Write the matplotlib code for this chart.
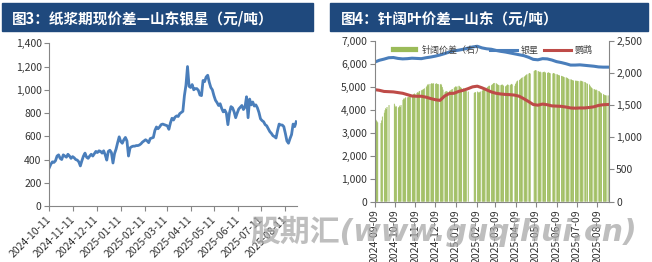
import pandas as pd
import matplotlib
matplotlib.use("Agg")
import matplotlib.pyplot as plt
from matplotlib.patches import Rectangle

plt.rcParams['font.family'] = ['Noto Sans CJK SC', 'DejaVu Sans']
plt.rcParams['axes.unicode_minus'] = False

navy = "#1f497d"
blue = "#4a7ebb"
red = "#be4b48"
green = "#9bbb59"
grey = "#868686"
txt = "#333333"

# 图3：纸浆期现价差（山东银星），每两天一个读数
basis_start, basis_end = "2024-10-11", "2025-08-25"
basis = [
    330, 360, 380, 375, 390, 430, 440, 410, 400, 440,
    430, 420, 445, 430, 410, 425, 415, 400, 395, 380,
    345, 390, 430, 455, 420, 410, 430, 445, 430, 450,
    470, 460, 475, 470, 455, 475, 440, 395, 470, 480,
    460, 370, 450, 490, 545, 595, 555, 540, 570, 590,
    560, 430, 500, 510, 515, 515, 520, 520, 525, 535,
    550, 560, 570, 560, 545, 580, 585, 590, 650, 680,
    665, 680, 700, 705, 700, 695, 690, 660, 715, 755,
    740, 765, 775, 770, 795, 805, 815, 950, 1040, 1200,
    1030, 1020, 1045, 1000, 1010, 1010, 995, 955, 950, 1080,
    1070, 1110, 1125, 1065, 1020, 1000, 950, 910, 890, 865,
    880, 840, 810, 825, 800, 700, 800, 855, 845, 810,
    760, 800, 835, 850, 865, 830, 850, 940, 760, 920,
    870, 895, 860, 870, 845, 805, 750, 735, 725, 700,
    690, 665, 640, 625, 605, 597, 585, 650, 705, 697,
    697, 683, 625, 560, 540, 580, 615, 705, 683, 725,
]
basis_xticks = ["2024-10-11", "2024-11-11", "2024-12-11", "2025-01-11", "2025-02-11",
                "2025-03-11", "2025-04-11", "2025-05-11", "2025-06-11", "2025-07-11",
                "2025-08-11"]
basis_yticks = [0, 200, 400, 600, 800, 1000, 1200, 1400]

# 图4：针阔叶价差，山东（元/吨）
spread_start, spread_end = "2024-09-09", "2025-08-25"
closed_days = ["2024-09-16", "2024-09-17", "2024-10-01", "2024-10-02", "2024-10-03",
               "2024-10-04", "2024-10-07", "2025-01-01", "2025-01-28", "2025-01-29",
               "2025-01-30", "2025-01-31", "2025-02-03", "2025-02-04", "2025-04-04",
               "2025-05-01", "2025-05-02", "2025-05-05", "2025-06-02", "2025-07-23"]
# 针阔价差（右轴），按交易日，每行一周
spread = [
    1290, 1275, 1260, 1245, 1230,
    1220, 1260, 1320,
    1380, 1420, 1450, 1440, 1470,
    1500,
    1520, 1490, 1470, 1480,
    1460, 1470, 1490, 1470, 1500,
    1580, 1600, 1590, 1610, 1620,
    1620, 1630, 1620, 1640, 1640,
    1650, 1660, 1670, 1680, 1670,
    1690, 1700, 1690, 1710, 1720,
    1730, 1740, 1730, 1750, 1760,
    1780, 1800, 1820, 1810, 1830,
    1830, 1840, 1830, 1840, 1835,
    1830, 1840, 1820, 1830, 1825,
    1820, 1830, 1810, 1780, 1740,
    1700, 1710, 1720, 1700, 1710,
    1720, 1730, 1740, 1750,
    1770, 1780, 1790, 1780, 1790,
    1800, 1790, 1780, 1770, 1760,
    1760, 1750, 1740, 1730, 1720,
    1710,
    1690, 1700, 1700,
    1710, 1700, 1690, 1700, 1710,
    1720, 1740, 1750, 1760, 1770,
    1770, 1780, 1790, 1800, 1800,
    1810, 1820, 1830, 1840, 1845,
    1840, 1830, 1820, 1815, 1810,
    1810, 1815, 1820, 1810, 1800,
    1790, 1800, 1810, 1820, 1815,
    1810, 1820, 1830, 1820,
    1800, 1830, 1850, 1870, 1880,
    1890, 1900, 1910, 1920, 1930,
    1940, 1950, 1960, 1970, 1980,
    1990, 2000, 1990,
    2030, 2040, 2045, 2040,
    2030, 2020, 2015, 2020, 2010,
    2010, 2015, 2020, 2010, 2005,
    2000, 2010, 2005, 2000, 1995,
    1990, 2000, 1995, 1985,
    1980, 1975, 1970, 1965, 1960,
    1955, 1950, 1945, 1940, 1935,
    1930, 1925, 1920, 1910, 1905,
    1900, 1895, 1890, 1885, 1880,
    1880, 1875, 1880, 1870, 1875,
    1870, 1880, 1875, 1870, 1865,
    1860, 1850, 1840, 1830,
    1820, 1800, 1780, 1770, 1760,
    1750, 1740, 1730, 1740, 1730,
    1720, 1710, 1700, 1690, 1680,
    1670, 1660, 1655, 1650, 1650,
    1650,
]
# 银星 / 鹦鹉 价格（左轴），每周一个读数
silver_star = [6080, 6160, 6210, 6270, 6280, 6240, 6220, 6230, 6250, 6240,
               6230, 6270, 6300, 6340, 6390, 6450, 6520, 6570, 6600, 6640,
               6690, 6740, 6770, 6700, 6660, 6640, 6590, 6550, 6520, 6480,
               6440, 6400, 6360, 6290, 6200, 6180, 6230, 6220, 6170, 6100,
               6060, 6010, 5950, 5950, 5960, 5940, 5920, 5900, 5870, 5860,
               5860]
parrot = [4880, 4850, 4800, 4790, 4780, 4750, 4720, 4660, 4600, 4590,
          4590, 4550, 4490, 4440, 4410, 4600, 4710, 4720, 4800, 4850,
          4920, 5000, 5030, 4960, 4870, 4780, 4720, 4690, 4670, 4660,
          4640, 4590, 4480, 4360, 4230, 4200, 4250, 4220, 4170, 4160,
          4150, 4120, 4080, 4070, 4080, 4080, 4100, 4130, 4190, 4220,
          4230]
spread_xticks = ["2024-09-09", "2024-10-09", "2024-11-09", "2024-12-09", "2025-01-09",
                 "2025-02-09", "2025-03-09", "2025-04-09", "2025-05-09", "2025-06-09",
                 "2025-07-09", "2025-08-09"]
price_yticks = [0, 1000, 2000, 3000, 4000, 5000, 6000, 7000]
spread_yticks = [0, 500, 1000, 1500, 2000, 2500]

basis_dates = pd.date_range(basis_start, basis_end, freq="2D")
trade_days = pd.bdate_range(spread_start, spread_end)
trade_days = trade_days[~trade_days.isin(pd.to_datetime(closed_days))]
week_dates = pd.date_range(spread_start, spread_end, freq="7D")
assert len(trade_days) == len(spread), (len(trade_days), len(spread))
assert len(basis_dates) == len(basis)

W, H = 652, 262
fig = plt.figure(figsize=(W / 100, H / 100), dpi=100)


def px(x0, y0, x1, y1):
    return [x0 / W, 1 - y1 / H, (x1 - x0) / W, (y1 - y0) / H]


def style_ticks(ax):
    ax.tick_params(axis="both", which="both", direction="out", length=3.5, width=0.8,
                   color=grey, labelsize=7.5, labelcolor=txt, pad=2)


# title bars
for (x0, x1, tx, title) in [(2, 313, 12, "图3：纸浆期现价差—山东银星（元/吨）"),
                            (330, 648, 341, "图4：针阔叶价差—山东（元/吨）")]:
    fig.patches.append(Rectangle((x0 / W, 1 - 31 / H), (x1 - x0) / W, 28 / H,
                                 transform=fig.transFigure, color=navy, zorder=0))
    fig.text(tx / W, 1 - 18 / H, title, color="white", fontsize=10.5,
             fontweight="bold", va="center", ha="left")

# ---- left chart
ax = fig.add_axes(px(49.3, 43.3, 297, 206))
ax.plot(basis_dates, basis, color=blue, lw=2.0, solid_joinstyle="round")
ax.set_ylim(0, 1400)
ax.set_xlim(pd.Timestamp(basis_start), pd.Timestamp("2025-08-26"))
ax.set_yticks(basis_yticks)
ax.set_yticklabels([f"{v:,}" for v in basis_yticks])
ax.set_xticks(pd.to_datetime(basis_xticks))
ax.set_xticklabels(basis_xticks, rotation=45, ha="right", va="center",
                   rotation_mode="anchor")
for s in ["top", "right"]:
    ax.spines[s].set_visible(False)
for s in ["left", "bottom"]:
    ax.spines[s].set_color(grey)
    ax.spines[s].set_linewidth(0.8)
style_ticks(ax)
ax.tick_params(axis="x", pad=5)

# ---- right chart
bx = fig.add_axes(px(374.7, 41, 608.5, 201.5))
bars = bx.bar(trade_days, spread, width=1.0, align="edge", color=green,
              edgecolor=green, linewidth=0.15, snap=False)
lx = bx.twinx()
bx.yaxis.tick_right()
lx.yaxis.tick_left()
l1, = lx.plot(week_dates, silver_star, color=blue, lw=2.2)
l2, = lx.plot(week_dates, parrot, color=red, lw=2.2)
bx.set_ylim(0, 2500)
lx.set_ylim(0, 7000)
bx.set_xlim(pd.Timestamp(spread_start), pd.Timestamp("2025-08-26"))
bx.set_yticks(spread_yticks)
bx.set_yticklabels([f"{v:,}" for v in spread_yticks])
lx.set_yticks(price_yticks)
lx.set_yticklabels([f"{v:,}" for v in price_yticks])
bx.set_xticks(pd.to_datetime(spread_xticks))
bx.set_xticklabels(spread_xticks, rotation=90, ha="center", va="top")
for a in (bx, lx):
    for s in a.spines.values():
        s.set_visible(False)
bx.spines["bottom"].set_visible(True)
bx.spines["right"].set_visible(True)
lx.spines["left"].set_visible(True)
for s in [bx.spines["bottom"], bx.spines["right"], lx.spines["left"]]:
    s.set_color(grey)
    s.set_linewidth(0.8)
style_ticks(bx)
style_ticks(lx)

leg = lx.legend([bars, l1, l2], ["针阔价差（右）", "银星", "鹦鹉"], loc="upper center",
                bbox_to_anchor=(0.5, 1.0), ncol=3, frameon=False, fontsize=6.5,
                handlelength=3.0, handleheight=0.6, columnspacing=0.6,
                handletextpad=0.4, borderaxespad=0.1, labelcolor="#404040")

# watermark
fig.text(250 / W, 1 - 231 / H, "股期汇(www.guqihui.cn)", fontsize=21.5,
         fontweight="bold", fontstyle="italic", color="#a8a8a8", alpha=0.75,
         family=["DejaVu Sans", "Noto Sans CJK SC"], va="center", ha="left", zorder=10)

fig.savefig("out.png", dpi=100)
